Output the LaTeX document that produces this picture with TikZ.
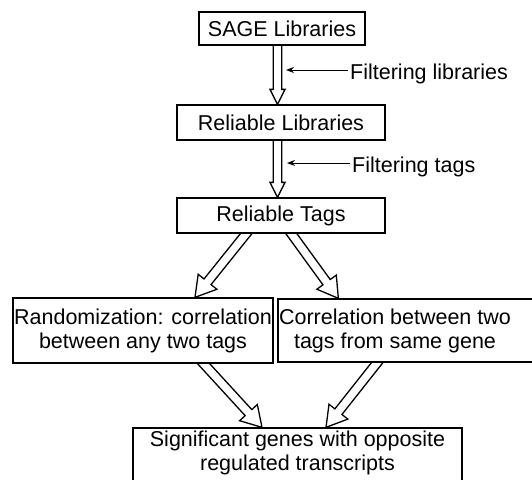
\documentclass[tikz,border=0pt]{standalone}
\usepackage{fontspec}
\setmainfont{Liberation Sans}
\usetikzlibrary{calc,arrows.meta,backgrounds}

% hollow block arrow: start, tip, shaft half width, head half width, head length
\newcommand\hollowarrow[5]{%
  \path (#1) coordinate (ha-s) (#2) coordinate (ha-t);
  \coordinate (ha-c) at ($(ha-t)!#5!(ha-s)$);
  \draw[blockarrow]
    ($(ha-s)!#3!90:(ha-t)$) -- ($(ha-c)!#3!90:(ha-t)$) --
    ($(ha-c)!#4!90:(ha-t)$) -- (ha-t) --
    ($(ha-c)!#4!-90:(ha-t)$) -- ($(ha-c)!#3!-90:(ha-t)$) --
    ($(ha-s)!#3!-90:(ha-t)$) -- cycle;
}

\tikzset{
  every node/.style={font=\fontsize{21.5pt}{24pt}\selectfont},
  box/.style={draw, line width=1.3pt, fill=white, inner sep=0pt, align=center},
  txt/.style={inner sep=0pt, align=center},
  lbl/.style={inner sep=0pt, anchor=base west},
  blockarrow/.style={draw, line width=1.3pt, fill=white, line join=miter},
  pointer/.style={line width=1pt, -{Stealth[length=8pt,width=6pt]}}
}

\begin{document}
\begin{tikzpicture}[x=1pt, y=-1pt]
\useasboundingbox (0,0) rectangle (532,479);
\clip (0,0) rectangle (532,479);

% boxes
\node[box, minimum width=166pt, minimum height=33pt] (b1) at (282,28.5) {SAGE Libraries};
\node[box, minimum width=208pt, minimum height=35pt] (b2) at (281,122.5) {Reliable Libraries};
\node[box, minimum width=208pt, minimum height=35pt] (b3) at (281,215.5) {Reliable Tags};
\node[box, minimum width=260pt, minimum height=65pt] (b4) at (143,330.5)
  {Randomization: correlation\\between any two tags};
\node[box, minimum width=267pt, minimum height=63pt] (b5) at (411.5,330.5) {};
\node[txt] (t5) at (395,330.5) {Correlation between two\\tags from same gene};
\node[box, minimum width=329pt, minimum height=62pt] (b6) at (297.5,459) {};
\node[txt] (t6) at (297.5,453) {Significant genes with opposite\\regulated transcripts};

% side labels with pointers
\node[lbl] (l1) at (350,79.5) {Filtering libraries};
\draw[pointer] ($(l1.base west)+(-2,-9.5)$) -- ++(-62,0);
\node[lbl] (l2) at (352,172) {Filtering tags};
\draw[pointer] ($(l2.base west)+(-2,-9)$) -- ++(-63,0);

% block arrows behind the boxes
\begin{scope}[on background layer]
  \hollowarrow{$(b1.south)+(-4.5,-5)$}{$(b2.north)+(-3.5,0)$}{4.2pt}{7.5pt}{15pt}
  \hollowarrow{$(b2.south)+(-3.5,-5)$}{$(b3.north)+(-3.5,0)$}{4.2pt}{7.5pt}{15pt}
  \hollowarrow{$(b3.south)+(-30,-6)$}{$(b4.north)+(52,0)$}{4.5pt}{12pt}{20pt}
  \hollowarrow{$(b3.south)+(6,-6)$}{$(b5.north west)+(61,0)$}{4.5pt}{12pt}{20pt}
  \hollowarrow{$(b4.south)+(56,-5)$}{$(b6.north)+(-35.5,0)$}{4.5pt}{12pt}{20pt}
  \hollowarrow{$(b5.south west)+(103,-4)$}{$(b6.north)+(28.5,0)$}{4.5pt}{12pt}{20pt}
\end{scope}
\end{tikzpicture}
\end{document}
